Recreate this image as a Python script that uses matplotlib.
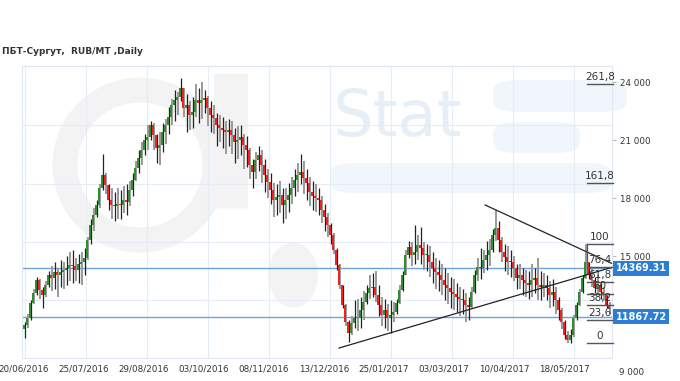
import matplotlib
matplotlib.use("Agg")
import matplotlib.pyplot as plt
from matplotlib.patches import FancyBboxPatch, Ellipse
from matplotlib.transforms import blended_transform_factory

title = "ПБТ-Сургут,  RUB/MT ,Daily"

closes = [
    11430, 11790, 12570, 13090, 13760, 13240, 12980, 13500, 14020, 13860,
    14170, 14020, 14170, 14280, 14380, 14540, 14480, 14280, 14590, 14690,
    14900, 15830, 16600, 17120, 17640, 18520, 19190, 18670, 17900, 17640,
    17590, 17690, 17640, 17900, 17790, 18410, 18930, 19550, 20070, 20480,
    21000, 21160, 21780, 21260, 20590, 20740, 21410, 21780, 22190, 22810,
    23070, 23220, 23690, 22660, 22810, 22290, 22450, 23070, 22910, 23070,
    23170, 22660, 22290, 22140, 21780, 21620, 21520, 21410, 21520, 21260,
    20900, 21000, 21160, 20740, 20480, 19710, 19350, 19970, 20220, 19710,
    19190, 18830, 18410, 17900, 18050, 18160, 17640, 17900, 18160, 18520,
    18930, 19190, 19350, 19030, 18780, 18310, 18100, 18000, 17900, 17380,
    17020, 16600, 16090, 15310, 14540, 13500, 12470, 11590, 11020, 11540,
    11790, 11790, 12210, 12620, 13090, 13350, 13400, 12980, 12470, 11950,
    12210, 11790, 11950, 12100, 12570, 13240, 14020, 15050, 15470, 15050,
    15210, 15570, 15410, 15050, 15050, 14690, 14380, 14170, 14020, 13760,
    13500, 13350, 13140, 13040, 12880, 12780, 12730, 12470, 12360, 13140,
    14020, 14430, 14380, 14790, 15050, 15310, 16090, 16450, 15830, 15210,
    14950, 14690, 14690, 14380, 13860, 14020, 13760, 13600, 13500, 13760,
    13860, 13500, 13400, 13500, 13350, 12980, 13140, 12730, 12210, 11590,
    10920, 10660, 10920, 11790, 12470, 13140, 13860, 14690, 14020, 13760,
    13350, 13500, 13140, 12980, 12470, 12310]

highs = [
    11600, 12000, 12700, 13300, 13900, 13800, 13400, 13700, 14200, 14500,
    14700, 14400, 14800, 14700, 15000, 15200, 15300, 14900, 15100, 15200,
    15400, 16000, 16900, 17500, 17900, 18700, 20300, 19300, 18700, 18500,
    18300, 18500, 18400, 18600, 18700, 18900, 19300, 19900, 20500, 20900,
    21300, 21800, 22000, 21900, 21300, 21400, 21900, 22100, 22700, 23100,
    23600, 23500, 24200, 23700, 23400, 23000, 23200, 23900, 23700, 24000,
    23600, 23300, 23000, 22800, 22400, 22300, 22200, 22000, 22100, 22000,
    21600, 21700, 21800, 21300, 21200, 20600, 20000, 20400, 20700, 20500,
    20000, 19500, 19300, 18800, 18700, 18900, 18500, 18500, 18800, 19100,
    19500, 19800, 20300, 19900, 19500, 19100, 18900, 18700, 18500, 18100,
    17700, 17200, 16700, 16200, 15400, 14600, 13500, 12500, 11700, 11900,
    12700, 12800, 12900, 13200, 13500, 14000, 14100, 14200, 13500, 12900,
    12800, 12500, 12700, 12600, 12800, 13500, 14200, 15300, 15800, 15700,
    16600, 16100, 16500, 15700, 15600, 15500, 15200, 14900, 14800, 14600,
    14400, 14100, 13900, 13800, 13600, 13400, 13300, 13100, 12900, 13400,
    14300, 14900, 15400, 15300, 15800, 15900, 16400, 17400, 16800, 16000,
    15600, 15500, 15300, 15000, 14600, 14600, 14400, 14300, 14200, 14600,
    14400, 14900, 14200, 14100, 14000, 13700, 13800, 13400, 12900, 12300,
    11700, 11100, 11200, 11950, 12600, 13300, 14000, 15620, 14700, 14400,
    13900, 14000, 13600, 13400, 13000, 12600]

lows = [
    10760, 11300, 11700, 12500, 13000, 12800, 12300, 12900, 13400, 13200,
    13300, 12900, 13400, 13300, 13500, 13700, 13600, 13700, 13600, 13500,
    14000, 14800, 15600, 16300, 17000, 17500, 18400, 18200, 17400, 16900,
    16800, 16900, 16900, 17200, 17100, 17600, 18100, 18900, 19300, 19700,
    20200, 20500, 21000, 20500, 19800, 19700, 20400, 20800, 21300, 21800,
    22000, 22300, 23000, 22200, 21400, 21500, 21600, 22200, 21900, 22100,
    22400, 21700, 21400, 21300, 20700, 20900, 20600, 20300, 20700, 20300,
    19800, 20000, 20200, 19500, 19600, 19000, 18500, 19000, 19400, 18800,
    18300, 18000, 17700, 17000, 17100, 17200, 16700, 16900, 17300, 17700,
    18100, 18300, 18700, 18200, 17900, 17600, 17400, 17300, 17100, 16700,
    16300, 16000, 15600, 15100, 14300, 13300, 12300, 11400, 10550, 10900,
    11300, 11100, 11300, 11700, 12500, 12800, 12900, 12600, 11900, 11400,
    11300, 11100, 11000, 11600, 12000, 12500, 13200, 14000, 14900, 14500,
    14600, 14800, 14600, 14300, 14200, 13900, 13600, 13300, 13200, 13000,
    12700, 12500, 12300, 12200, 12100, 11900, 12000, 11600, 11700, 12300,
    13100, 13700, 13800, 14100, 14300, 14500, 15200, 15800, 15200, 14700,
    14200, 14000, 13900, 13700, 13300, 13300, 13000, 12900, 12800, 12900,
    13100, 12700, 12700, 12900, 12700, 12300, 12400, 12000, 11700, 11200,
    10700, 10500, 10500, 10800, 11700, 12400, 13100, 13800, 13800, 13400,
    13100, 13100, 12800, 12700, 12300, 12000]

first_open = 11200
opens = [first_open] + closes[:-1]

tick_dates = ["20/06/2016", "25/07/2016", "29/08/2016", "03/10/2016", "08/11/2016",
              "13/12/2016", "25/01/2017", "03/03/2017", "10/04/2017", "18/05/2017"]
tick_pos = [0, 20, 40, 60, 80, 100, 120, 140, 160, 180]
grid_x = [0.33, 20.67, 41.0, 61.33, 81.67, 102.0, 122.33, 142.67, 163.0, 183.33]

y_ticks = [24000, 21000, 18000, 15000]
y_extra_tick = 9000
grid_y = [21776, 18725, 15725, 12725]

levels = [14369.31, 11867.72]

fib_low, fib_high = 10500, 15620
fib_ratios = [0.0, 0.236, 0.382, 0.5, 0.618, 0.764, 1.0, 1.618, 2.618]
fib_labels = ["0", "23,6", "38,2", "50", "61,8", "76,4", "100", "161,8", "261,8"]

support_line = ([105.0, 196.3], [10240, 14430])
resist_line = ([153.7, 196.3], [17640, 14590])

# ---------------------------------------------------------------
W, H = 680, 381
fig = plt.figure(figsize=(W / 100, H / 100), dpi=100)
fig.patch.set_facecolor("white")
ax_l, ax_r, ax_t, ax_b = 22, 612, 66, 358
ax = fig.add_axes([ax_l / W, 1 - ax_b / H, (ax_r - ax_l) / W, (ax_b - ax_t) / H])
ax.set_facecolor("none")
ax.set_xlim(-0.667, 196.0)
ax.set_ylim(9725, 24828)

def pa(x, y):
    return ((x - ax_l) / (ax_r - ax_l), (ax_b - y) / (ax_b - ax_t))

# watermark
wm_gray = "#f3f3f3"
ax.add_patch(Ellipse(pa(140, 165), 150 / 590, 150 / 292, transform=ax.transAxes, fill=False,
                     edgecolor=wm_gray, lw=18, zorder=0.2, clip_on=False))
x0, y0 = pa(217, 207)
ax.add_patch(FancyBboxPatch((x0, y0), 28 / 590, 132 / 292, boxstyle="round,pad=0.005",
                            transform=ax.transAxes, facecolor=wm_gray, edgecolor="none",
                            zorder=0.2, clip_on=False))
ax.add_patch(Ellipse(pa(293, 275), 50 / 590, 65 / 292, transform=ax.transAxes,
                     facecolor=wm_gray, edgecolor="none", zorder=0.2, clip_on=False))
band_c = "#f0f6fc"
for (bx0, bx1, by0, by1) in [(493, 627, 80, 112), (493, 580, 122, 153), (330, 612, 163, 193)]:
    x0, y0 = pa(bx0, by1)
    ax.add_patch(FancyBboxPatch((x0, y0), (bx1 - bx0) / 590, (by1 - by0) / 292,
                                boxstyle="round,pad=0.0,rounding_size=0.04",
                                transform=ax.transAxes, facecolor=band_c, edgecolor="none",
                                zorder=0.2, clip_on=False))
sx, sy = pa(333, 118)
ax.text(sx, sy, "Stat", transform=ax.transAxes, fontsize=46, color="#e6eff8",
        ha="left", va="center", family="DejaVu Sans", zorder=0.25)

# grid
for g in grid_y:
    ax.axhline(g, color="#e4edf6", lw=0.8, zorder=0.5)
for t in grid_x:
    ax.axvline(t, color="#e4edf6", lw=0.8, zorder=0.5)

# horizontal levels
for lv in levels:
    ax.axhline(lv, color="#6da3da", lw=1.0, zorder=1)

# candles
n = len(closes)
xs = list(range(n))
up_c, dn_c = "#2f8f2f", "#f52020"
wick_colors = ["#222222" if i % 2 == 0 else "#9a9a9a" for i in xs]
wick_lw = [0.9 if i % 2 == 0 else 1.4 for i in xs]
ax.vlines([x + 0.45 for x in xs], lows, highs, colors=wick_colors, linewidths=wick_lw, zorder=2)
bottoms = [min(o, c) for o, c in zip(opens, closes)]
heights = [max(abs(c - o), 60) for o, c in zip(opens, closes)]
cols = [up_c if c >= o else dn_c for o, c in zip(opens, closes)]
ax.bar(xs, heights, bottom=bottoms, width=0.7, color=cols, edgecolor="none", zorder=3)

# trend lines
ax.plot(*support_line, color="#222222", lw=0.9, zorder=4)
ax.plot(*resist_line, color="#222222", lw=0.9, zorder=4)

# fibonacci
fx0, fx1 = 187.7, 196.3
for r, lab in zip(fib_ratios, fib_labels):
    v = fib_low + r * (fib_high - fib_low)
    ax.plot([fx0, fx1], [v, v], color="#555555", lw=1.0, zorder=4, clip_on=False)
    ax.annotate(lab, xy=((fx0 + fx1) / 2, v), xytext=(0, 1.5), textcoords="offset points",
                ha="center", va="bottom", fontsize=7.5, color="#333333", zorder=5)
ax.plot([fx0, fx0], [fib_high, fib_low + 0.764 * (fib_high - fib_low)], color="#555555",
        lw=0.9, zorder=4)

# axes styling
for s in ax.spines.values():
    s.set_color("#dfe8f2")
    s.set_linewidth(0.8)
ax.set_xticks(tick_pos)
ax.set_xticklabels(tick_dates)
ax.tick_params(axis="x", length=0, labelsize=6.3, colors="#333333", pad=5)
ax.yaxis.tick_right()
ax.set_yticks(y_ticks)
ax.set_yticklabels([f"{v:,}".replace(",", " ") for v in y_ticks])
ax.tick_params(axis="y", length=3, width=0.8, color="#bbbbbb", labelsize=6.3,
               labelcolor="#333333", pad=3)
trans = blended_transform_factory(ax.transAxes, ax.transData)
ax.annotate(f"{y_extra_tick:,}".replace(",", " "), xy=(1.0, y_extra_tick), xycoords=trans,
            xytext=(5, 0), textcoords="offset points",
            ha="left", va="center", fontsize=6.3, color="#333333", annotation_clip=False)

for lv in levels:
    ax.annotate(f"{lv:.2f}", xy=(1.0, lv), xycoords=trans, xytext=(2.5, 0),
                textcoords="offset points", ha="left", va="center", fontsize=7.0,
                fontweight="bold", color="white", annotation_clip=False, zorder=10,
                bbox=dict(boxstyle="square,pad=0.25", facecolor="#2b7ed3", edgecolor="none"))

fig.text(2 / W, 1 - 52 / H, title, fontsize=6.5, fontweight="bold", color="#333333",
         ha="left", va="center")

fig.savefig("out.png", dpi=100, facecolor="white")
